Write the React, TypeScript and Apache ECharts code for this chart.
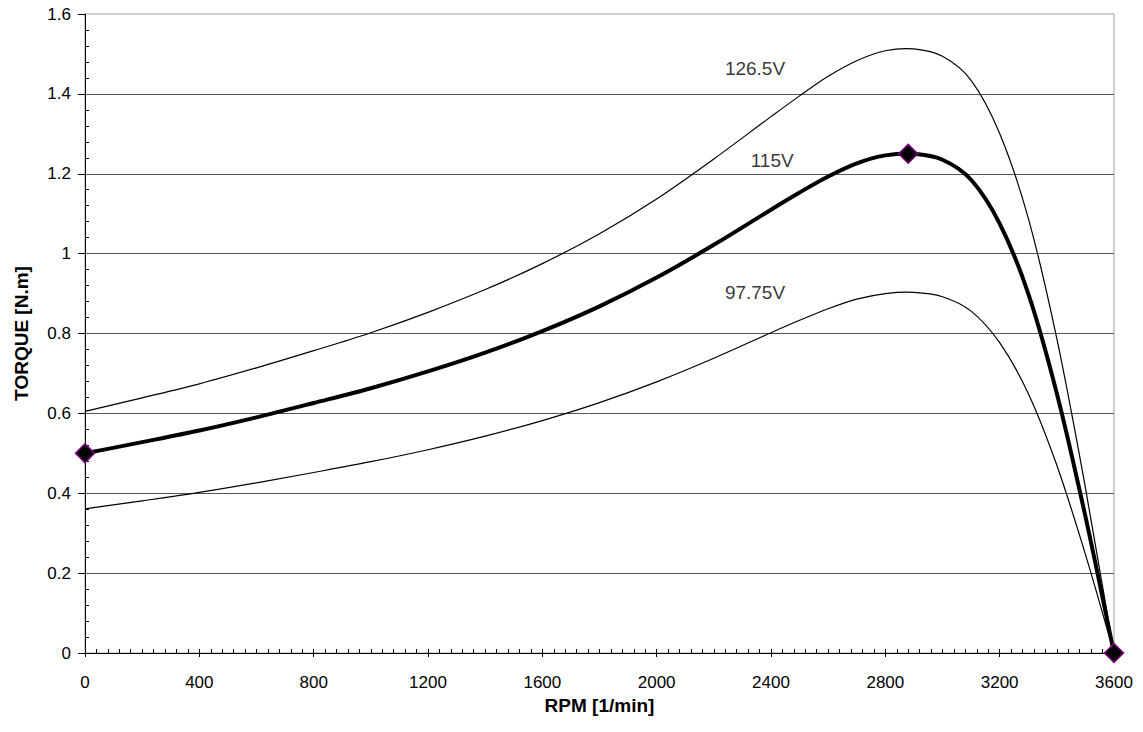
import React, { useEffect, useRef } from "react";
import * as echarts from "echarts";

const rpm = [0, 200, 400, 600, 800, 1000, 1200, 1400, 1600, 1800, 2000, 2200, 2400, 2500, 2600, 2700, 2800, 2900, 3000, 3100, 3200, 3300, 3400, 3500, 3600];
const torque115 = [0.5, 0.528, 0.557, 0.59, 0.626, 0.663, 0.705, 0.752, 0.806, 0.868, 0.94, 1.022, 1.11, 1.153, 1.193, 1.226, 1.246, 1.25, 1.235, 1.185, 1.075, 0.9, 0.65, 0.342, 0];
const torque1265 = [0.605, 0.639, 0.674, 0.714, 0.757, 0.802, 0.853, 0.91, 0.975, 1.05, 1.137, 1.237, 1.343, 1.395, 1.444, 1.483, 1.508, 1.5125, 1.494, 1.434, 1.301, 1.089, 0.787, 0.414, 0];
const torque9775 = [0.361, 0.381, 0.402, 0.426, 0.452, 0.479, 0.509, 0.543, 0.582, 0.627, 0.679, 0.738, 0.802, 0.833, 0.862, 0.886, 0.9, 0.903, 0.892, 0.856, 0.777, 0.65, 0.47, 0.247, 0];

const markerRpm = [0, 2880, 3600];
const markerTorque = [0.5, 1.25, 0];

const labelNames = ["126.5V", "115V", "97.75V"];
const labelRpm = [2344, 2404, 2344];
const labelTorque = [1.463, 1.233, 0.903];

const xTicks = { min: 0, max: 3600, interval: 400 };
const yTicks = { min: 0, max: 1.6, interval: 0.2 };

const FONT = "Liberation Sans, Arial, sans-serif";

function pairs(xs: number[], ys: number[]) {
  return xs.map((x, i) => [x, ys[i]]);
}

// Smooth cubic Hermite curve through the data points, mapped by the axes (api.coord)
function splinePath(api: any, xs: number[], ys: number[]) {
  const n = xs.length;
  const m = xs.map((_, i) => {
    if (i === 0) return (ys[1] - ys[0]) / (xs[1] - xs[0]);
    if (i === n - 1) return (ys[n - 1] - ys[n - 2]) / (xs[n - 1] - xs[n - 2]);
    return (ys[i + 1] - ys[i - 1]) / (xs[i + 1] - xs[i - 1]);
  });
  const p0 = api.coord([xs[0], ys[0]]);
  let d = `M${p0[0]},${p0[1]}`;
  for (let i = 0; i < n - 1; i++) {
    const h = xs[i + 1] - xs[i];
    const c1 = api.coord([xs[i] + h / 3, ys[i] + (m[i] * h) / 3]);
    const c2 = api.coord([xs[i + 1] - h / 3, ys[i + 1] - (m[i + 1] * h) / 3]);
    const p = api.coord([xs[i + 1], ys[i + 1]]);
    d += ` C${c1[0]},${c1[1]} ${c2[0]},${c2[1]} ${p[0]},${p[1]}`;
  }
  return d;
}

function curveSeries(name: string, ys: number[], width: number, z: number) {
  return {
    type: "custom",
    name,
    xAxisIndex: 0,
    yAxisIndex: 0,
    z,
    silent: true,
    data: pairs(rpm, ys),
    renderItem: (params: any, api: any) => {
      if (params.dataIndex !== 0) return null;
      return {
        type: "path",
        shape: { pathData: splinePath(api, rpm, ys) },
        style: { fill: "none", stroke: "#000", lineWidth: width, lineJoin: "round" },
      };
    },
  };
}

export default function App() {
  const ref = useRef<HTMLDivElement>(null);
  useEffect(() => {
    document.body.style.margin = "0";
    if (!ref.current) return;
    const chart = echarts.init(ref.current, undefined, { renderer: "svg" });
    chart.setOption({
      animation: false,
      backgroundColor: "#fff",
      grid: { left: 85, right: 29, top: 14, bottom: 79, show: true, borderColor: "#a0a0a0", borderWidth: 1, backgroundColor: "transparent" },
      xAxis: [
        {
          type: "value",
          ...xTicks,
          position: "bottom",
          name: "RPM [1/min]",
          nameLocation: "middle",
          nameGap: 43,
          nameTextStyle: { fontFamily: FONT, fontSize: 19, fontWeight: "bold", color: "#000" },
          axisLine: { show: true, onZero: false, lineStyle: { color: "#000", width: 1 } },
          axisTick: { show: true, length: 4, lineStyle: { color: "#000" } },
          minorTick: { show: true, splitNumber: 10, length: -4, lineStyle: { color: "#000" } },
          axisLabel: { fontFamily: FONT, fontSize: 17, color: "#000", margin: 21, formatter: (v: number) => String(v) },
          splitLine: { show: false },
        },
        {
          type: "value",
          ...xTicks,
          position: "bottom",
          axisLine: { show: false },
          axisTick: { show: true, inside: true, length: 4, lineStyle: { color: "#000" } },
          axisLabel: { show: false },
          splitLine: { show: false },
        },
      ],
      yAxis: {
        type: "value",
        ...yTicks,
        name: "TORQUE [N.m]",
        nameLocation: "middle",
        nameGap: 54,
        nameTextStyle: { fontFamily: FONT, fontSize: 19, fontWeight: "bold", color: "#000" },
        axisLine: { show: true, lineStyle: { color: "#000", width: 1 } },
        axisTick: { show: true, length: 7, lineStyle: { color: "#000" } },
        minorTick: { show: true, splitNumber: 5, length: -4, lineStyle: { color: "#000" } },
        axisLabel: { fontFamily: FONT, fontSize: 17, color: "#000", margin: 14, formatter: (v: number) => String(v) },
        splitLine: { show: true, showMinLine: false, showMaxLine: false, lineStyle: { color: "#555", width: 1 } },
      },
      series: [
        curveSeries("126.5V", torque1265, 1.2, 2),
        curveSeries("97.75V", torque9775, 1.2, 2),
        curveSeries("115V", torque115, 4, 3),
        {
          type: "scatter",
          name: "labels",
          data: labelNames.map((nm, i) => ({ value: [labelRpm[i], labelTorque[i]], name: nm })),
          symbolSize: 0,
          silent: true,
          label: { show: true, position: "inside", color: "#000", fontFamily: FONT, fontSize: 19, formatter: (p: any) => p.name },
          z: 4,
        },
        {
          type: "scatter",
          name: "115V points",
          data: pairs(markerRpm, markerTorque),
          symbol: "diamond",
          symbolSize: 19,
          itemStyle: { color: "#000", borderColor: "#800080", borderWidth: 1.5, opacity: 1 },
          z: 5,
          clip: false,
        },
      ],
    });
    return () => chart.dispose();
  }, []);
  return <div ref={ref} style={{ width: 1143, height: 732 }} />;
}
